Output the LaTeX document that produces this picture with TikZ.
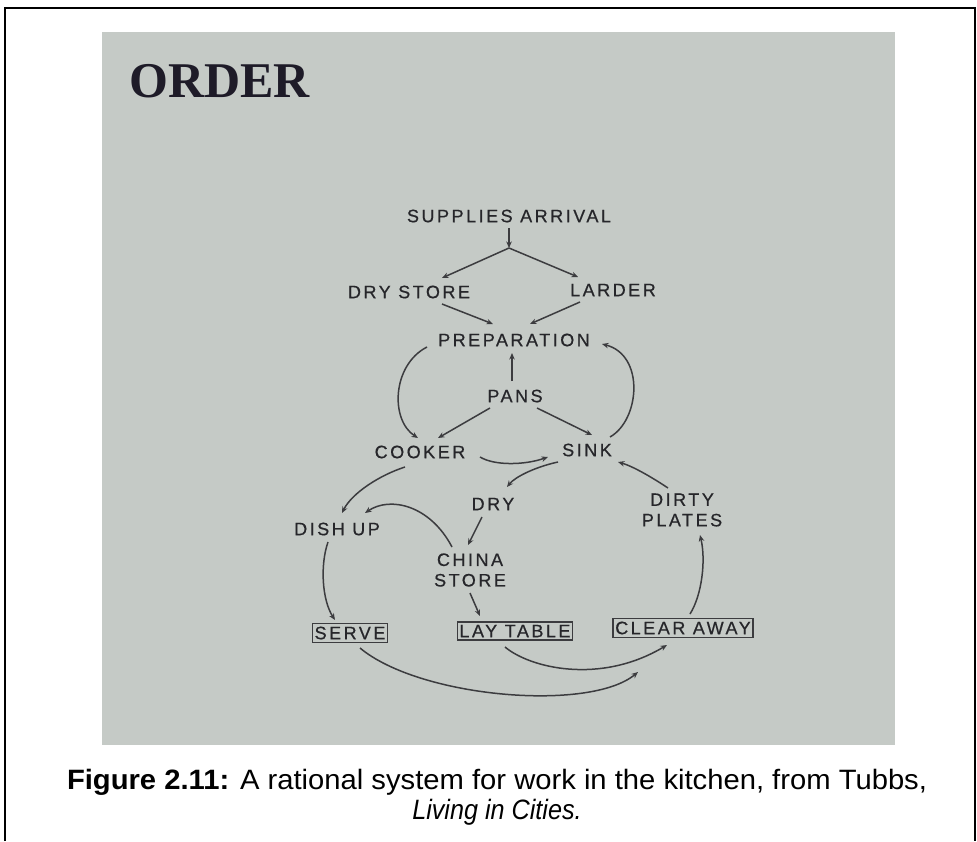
\documentclass[tikz,border=0pt]{standalone}
\usepackage{fontspec}
\usepackage{graphicx}
\setmainfont{Liberation Sans}
\newfontfamily\labfont[LetterSpace=14,FakeBold=0.6]{Liberation Sans}
\newfontfamily\orderfont{Liberation Serif}
\usetikzlibrary{arrows.meta}
\definecolor{paper}{RGB}{197,202,198}
\definecolor{ink}{RGB}{38,38,42}
\definecolor{ordink}{RGB}{30,27,40}
\begin{document}
\begin{tikzpicture}[x=1pt,y=-1pt,
  lab/.style={font=\labfont\fontsize{18}{20.5}\selectfont, text=ink, inner sep=1pt, align=center},
  boxlab/.style={lab, draw=ink!90, line width=1.7pt, inner xsep=2pt, inner ysep=3pt},
  flow/.style={draw=ink!90, line width=1.5pt, -{Stealth[length=6.5pt,width=5.5pt]}},
  frameline/.style={draw=black, line width=2pt}
]
\useasboundingbox (0,0) rectangle (977,841);
\fill[paper] (102,32) rectangle (895,745);
\draw[frameline] (5,841) -- (5,8) -- (975,8) -- (975,841);

% title
\node[anchor=base west, inner sep=0, text=ordink, font=\orderfont\bfseries\fontsize{50}{50}\selectfont] (title) at (129,97) {ORDER};

% nodes
\node[lab] (sup) at (509,216) {SUPPLIES ARRIVAL};
\coordinate (split) at (509,248);
\node[lab] (drys) at (409,292) {DRY STORE};
\node[lab] (lard) at (613,290) {LARDER};
\node[lab] (prep) at (514,340) {PREPARATION};
\node[lab] (pans) at (515,396) {PANS};
\node[lab] (cook) at (420,452) {COOKER};
\node[lab] (sink) at (587,450) {SINK};
\node[lab] (dry) at (493,504) {DRY};
\node[lab] (dish) at (337,529) {DISH UP};
\node[lab] (dirty) at (682,510) {DIRTY\\PLATES};
\node[lab] (china) at (470,570) {CHINA\\STORE};
\node[boxlab] (serve) at (350,633) {SERVE};
\node[boxlab] (lay) at (515,631) {LAY TABLE};
\node[boxlab] (clear) at (683,628) {CLEAR AWAY};

% connectors
\draw[flow] ([shift={(0,12)}]sup.center) -- (split);
\draw[flow] (split) -- ([shift={(33,-14)}]drys.center);
\draw[flow] (split) -- ([shift={(-35,-13)}]lard.center);
\draw[flow] ([shift={(33,12)}]drys.center) -- ([shift={(-21,-16)}]prep.center);
\draw[flow] ([shift={(-33,12)}]lard.center) -- ([shift={(16,-16)}]prep.center);
\draw[flow] ([shift={(-3,-15)}]pans.center) -- ([shift={(-2,13)}]prep.center);
\draw[flow] ([shift={(-87,7)}]prep.center) .. controls (392,365) and (390,420) .. ([shift={(-2,-14)}]cook.center);
\draw[flow] ([shift={(23,-13)}]sink.center) .. controls (640,420) and (645,355) .. ([shift={(88,4)}]prep.center);
\draw[flow] ([shift={(-25,12)}]pans.center) -- ([shift={(18,-14)}]cook.center);
\draw[flow] ([shift={(22,12)}]pans.center) -- ([shift={(5,-15)}]sink.center);
\draw[flow] ([shift={(60,5)}]cook.center) .. controls (495,466) and (525,465) .. ([shift={(-39,7)}]sink.center);
\draw[flow] ([shift={(-29,12)}]sink.center) .. controls (535,467) and (515,477) .. ([shift={(14,-17)}]dry.center);
\draw[flow] ([shift={(-15,15)}]cook.center) .. controls (380,475) and (352,493) .. ([shift={(5,-16)}]dish.center);
\draw[flow] ([shift={(-18,-23)}]china.center) .. controls (430,505) and (390,496) .. ([shift={(28,-16)}]dish.center);
\draw[flow] ([shift={(-11,13)}]dry.center) -- ([shift={(-2,-25)}]china.center);
\draw[flow] ([shift={(-14,-22)}]dirty.center) .. controls (650,476) and (632,466) .. ([shift={(31,12)}]sink.center);
\draw[flow] ([shift={(-9,13)}]dish.center) .. controls (320,565) and (322,600) .. ([shift={(-15,-13)}]serve.center);
\draw[flow] ([shift={(0,23)}]china.center) -- ([shift={(-35,-15)}]lay.center);
\draw[flow] ([shift={(7,-14)}]clear.center) .. controls (702,595) and (706,560) .. ([shift={(18,25)}]dirty.center);
\draw[flow] ([shift={(-10,16)}]lay.center) .. controls (530,668) and (600,685) .. ([shift={(-16,17)}]clear.center);
\draw[flow] ([shift={(10,15)}]serve.center) .. controls (420,698) and (590,712) .. ([shift={(-45,44)}]clear.center);

% caption
\node[anchor=base, inner sep=0] (cap1) at (497,789) {\resizebox{860pt}{\height}{\fontsize{28}{32}\selectfont\textbf{Figure 2.11:} A rational system for work in the kitchen, from Tubbs,}};
\node[anchor=base, inner sep=0] (cap2) at (497,819) {\scalebox{0.9}[1]{\fontsize{28}{32}\selectfont\itshape Living in Cities.}};
\end{tikzpicture}
\end{document}
